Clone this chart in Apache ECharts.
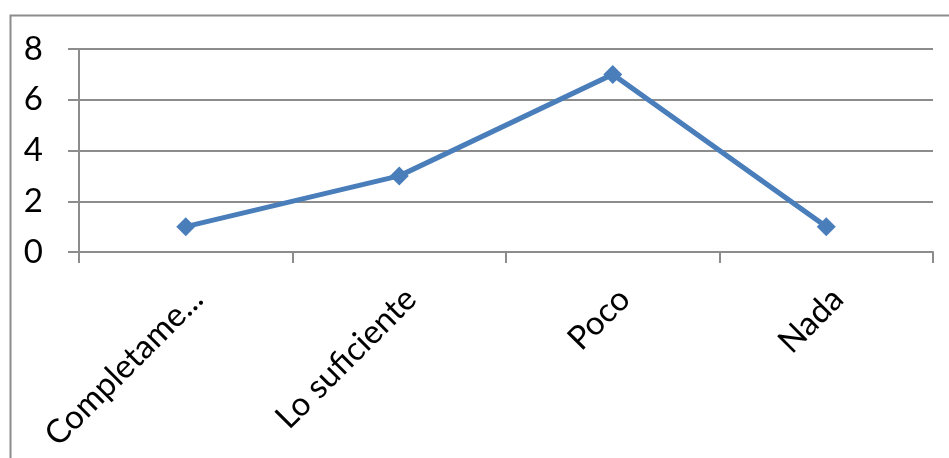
<!DOCTYPE html>
<html>
<head>
<meta charset="utf-8">
<script src="https://cdn.jsdelivr.net/npm/echarts@6/dist/echarts.min.js"></script>
<style>
  html, body { margin: 0; padding: 0; background: #fff; }
  #chart { width: 949px; height: 458px; }
</style>
</head>
<body>
<div id="chart"></div>
<script>
// Datos de la gráfica
const categorias = ["Completame...", "Lo suficiente", "Poco", "Nada"];
const valores = [1, 3, 7, 1];
const ejeY = { min: 0, max: 8, interval: 2 };

const gris = "#8c8c8c";
const azul = "#4a7ebb";

const chart = echarts.init(document.getElementById("chart"));

const option = {
  animation: false,
  backgroundColor: "#fff",
  // marco exterior del gráfico
  graphic: [{
    type: "rect",
    left: 8,
    top: 13,
    shape: { width: 980, height: 480 },
    style: { fill: "none", stroke: gris, lineWidth: 2 },
    silent: true
  }],
  grid: {
    left: 79,
    right: 16,
    top: 49,
    bottom: 206,
    containLabel: false
  },
  xAxis: {
    type: "category",
    data: categorias,
    boundaryGap: true,
    axisLine: { show: true, lineStyle: { color: gris, width: 2 } },
    axisTick: { show: true, inside: false, length: 11, lineStyle: { color: gris, width: 2 } },
    axisLabel: {
      rotate: 45,
      interval: 0,
      margin: 30,
      verticalAlign: "top",
      fontFamily: "Lato",
      fontSize: 33,
      color: "#000"
    },
    splitLine: { show: false }
  },
  yAxis: {
    type: "value",
    min: ejeY.min,
    max: ejeY.max,
    interval: ejeY.interval,
    axisLine: { show: true, lineStyle: { color: gris, width: 2 } },
    axisTick: { show: true, length: 11, lineStyle: { color: gris, width: 2 } },
    axisLabel: {
      margin: 36,
      fontFamily: "Lato",
      fontSize: 33,
      color: "#000"
    },
    splitLine: { show: true, lineStyle: { color: gris, width: 2 } }
  },
  series: [{
    type: "line",
    data: valores,
    symbol: "diamond",
    symbolSize: 19,
    lineStyle: { color: azul, width: 5 },
    itemStyle: { color: azul },
    label: { show: false }
  }]
};

chart.setOption(option);
</script>
</body>
</html>
